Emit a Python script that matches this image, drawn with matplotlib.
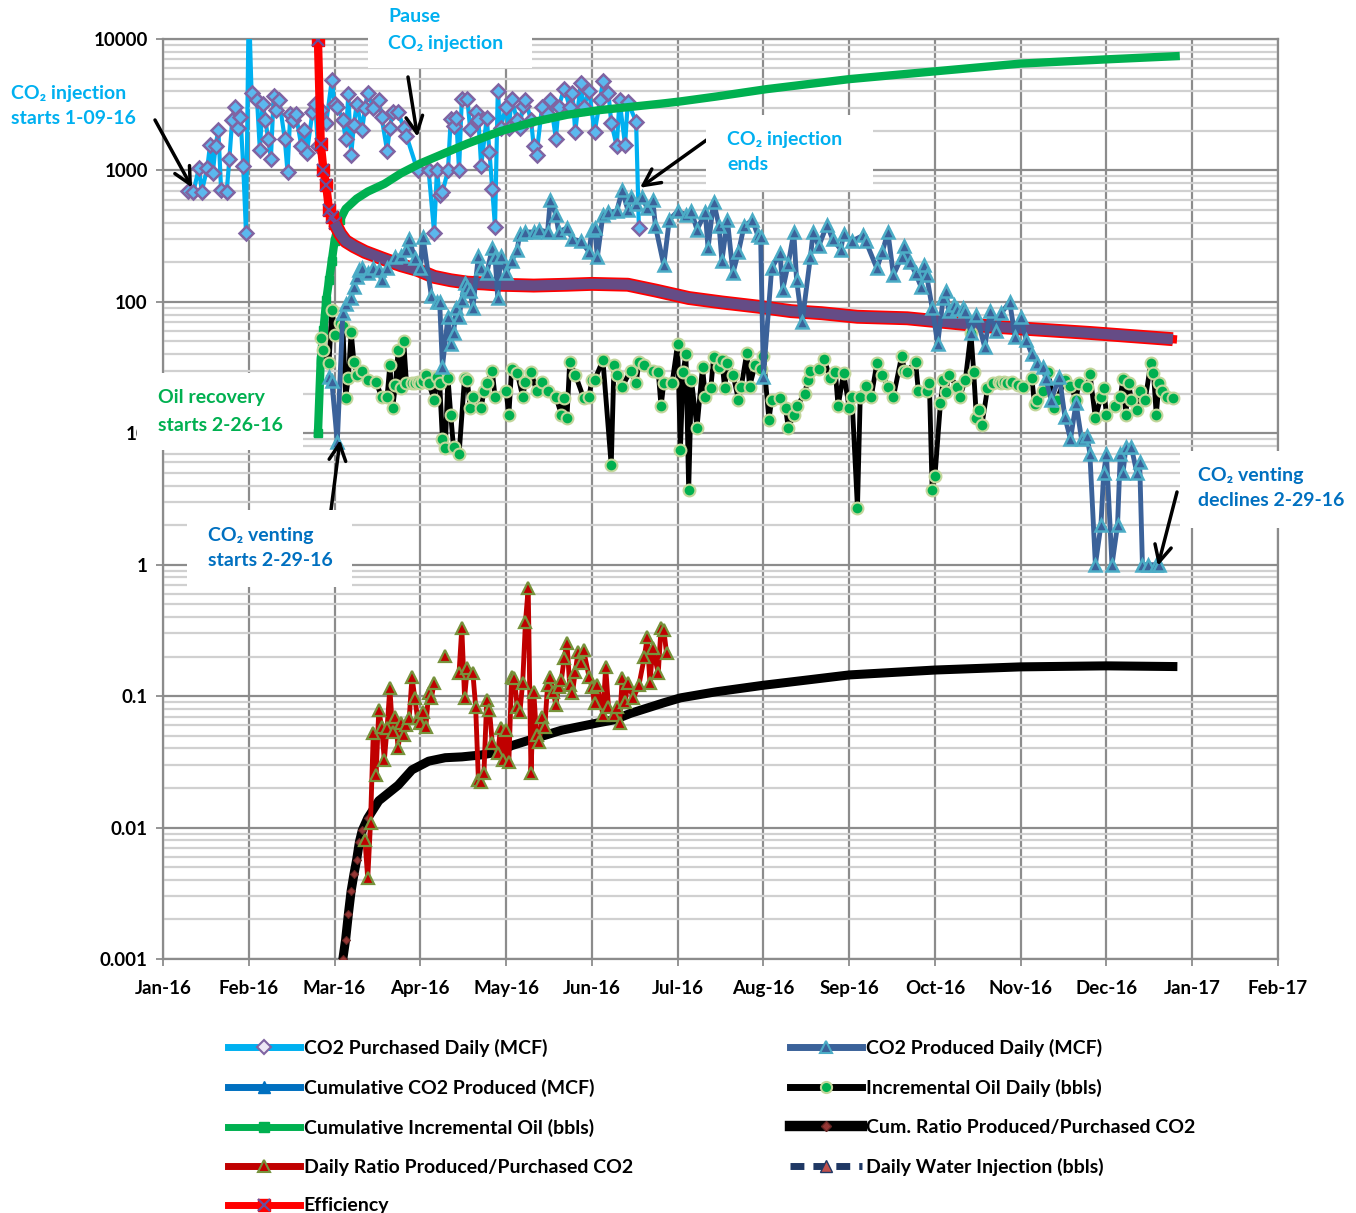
import numpy as np
import matplotlib
matplotlib.use('Agg')
import matplotlib.pyplot as plt
from matplotlib.patches import Rectangle
from matplotlib.lines import Line2D

plt.rcParams['font.family'] = ['Lato', 'DejaVu Sans']
plt.rcParams['font.weight'] = 'bold'

# x axis: days since 1 Jan 2016, ticks every 31 days
month_labels = ['Jan-16', 'Feb-16', 'Mar-16', 'Apr-16', 'May-16', 'Jun-16', 'Jul-16',
                'Aug-16', 'Sep-16', 'Oct-16', 'Nov-16', 'Dec-16', 'Jan-17', 'Feb-17']
y_labels = ['0.001', '0.01', '0.1', '1', '10', '100', '1000', '10000']

# CO2 Purchased Daily (MCF)
purch_day = [9, 11, 13, 14, 16, 17, 18, 19, 20, 21, 23, 24, 25, 26, 27, 28, 29, 30, 31, 32,
             34, 35, 36, 37, 38, 39, 40, 41, 42, 44, 45, 46, 47, 48, 50, 51, 52, 54, 55, 56,
             57, 59, 61, 62, 63, 65, 66, 67, 68, 69, 70, 72, 73, 74, 76, 78, 79, 81, 82, 83,
             85, 87, 88, 92, 96, 98, 99, 100, 101, 103, 104, 105, 106, 107, 108, 110, 111, 113, 114, 115,
             117, 118, 119, 120, 121, 122, 124, 125, 126, 128, 129, 130, 131, 133, 134, 135, 137, 139, 140, 142,
             143, 145, 147, 148, 149, 151, 152, 154, 156, 158, 159, 161, 162, 164, 165, 167, 168, 171, 172]
purch_mcf = [700, 690, 1045, 690, 1045, 1560, 950, 1530, 2040, 710, 680, 1230, 2420, 3040, 2120, 2550, 1080, 335, 20000, 3900,
             3440, 1436, 3200, 2420, 1740, 1230, 3700, 2860, 3440, 1740, 980, 2700, 2420, 2700, 1530, 2040, 1360, 2760, 3200, 1530,
             2860, 2310, 4850, 3200, 3040, 2420, 1740, 3800, 1310, 2230, 3200, 2040, 2990, 3900, 2990, 3440, 2550, 1410, 2120, 2760,
             2760, 2120, 1830, 1000, 1000, 335, 1000, 650, 680, 1000, 2470, 2160, 2500, 1000, 3520, 3520, 2080, 2760, 2420, 1080,
             2500, 1390, 720, 370, 4000, 2120, 3040, 2120, 3480, 2420, 2120, 3100, 3440, 2420, 1530, 1310, 3040, 2700, 3440, 1740,
             3040, 4200, 3040, 3900, 1960, 4650, 3040, 4000, 1960, 3440, 4780, 3900, 2310, 1530, 3440, 1560, 3310, 2350, 365]

# CO2 Produced Daily (MCF)
prod_day = [60, 61, 63, 65, 66, 68, 69, 70, 71, 72, 74, 76, 78, 79, 81, 84, 86, 88, 89, 91,
            93, 94, 97, 99, 100, 101, 103, 104, 105, 106, 107, 108, 109, 110, 111, 112, 114, 115, 117, 119,
            120, 121, 122, 124, 126, 128, 129, 131, 134, 136, 139, 140, 142, 143, 146, 148, 151, 154, 155, 156,
            157, 159, 161, 164, 166, 168, 169, 171, 173, 175, 177, 178, 181, 183, 186, 189, 191, 193, 196, 197,
            199, 201, 202, 204, 206, 208, 210, 213, 215, 216, 217, 220, 223, 224, 226, 228, 229, 231, 234, 235,
            237, 240, 242, 245, 246, 249, 253, 254, 258, 260, 262, 264, 267, 268, 270, 272, 274, 275, 276, 278,
            280, 282, 283, 284, 286, 287, 289, 290, 292, 294, 297, 299, 301, 303, 306, 308, 310, 312, 314, 316,
            318, 319, 321, 324, 326, 328, 330, 332, 334, 335, 337, 339, 340, 341, 343, 345, 346, 347, 348, 350,
            352, 353, 354, 356, 359, 360]
prod_mcf = [27, 25, 8.6, 82, 96, 107, 130, 155, 175, 180, 165, 180, 175, 146, 180, 220, 225, 250, 300, 215,
            180, 310, 110, 100, 99, 32, 77, 48, 58, 90, 77, 104, 140, 130, 120, 90, 225, 180, 165, 255,
            220, 107, 225, 165, 205, 250, 330, 340, 340, 353, 340, 600, 460, 340, 365, 300, 290, 240, 353, 365,
            220, 460, 480, 490, 710, 500, 630, 560, 630, 520, 600, 375, 190, 420, 490, 460, 490, 353, 480, 255,
            580, 375, 205, 420, 165, 240, 375, 420, 320, 310, 27, 180, 235, 124, 195, 340, 146, 70, 220, 340,
            265, 385, 300, 250, 330, 290, 320, 290, 180, 240, 340, 160, 220, 265, 200, 165, 130, 190, 160, 90,
            48, 107, 120, 85, 95, 88, 90, 85, 58, 80, 45, 85, 60, 82, 100, 54, 77, 51, 40, 34,
            32, 26.5, 18, 27, 13.2, 9, 17, 9, 9.5, 7, 1, 2, 5, 6.9, 1, 2, 6.9, 5, 7.8, 7.8,
            5, 6, 1, 1, 1, 1]

# Incremental Oil Daily (bbls)
oil_day = [57, 58, 60, 61, 62, 64, 65, 66, 67, 68, 69, 70, 72, 74, 77, 79, 81, 82, 83, 84,
           85, 86, 87, 88, 90, 91, 92, 93, 94, 95, 96, 98, 99, 100, 101, 102, 103, 104, 105, 107,
           109, 110, 111, 112, 115, 116, 117, 119, 120, 124, 125, 126, 128, 130, 131, 133, 135, 137, 139, 142,
           144, 145, 146, 147, 149, 152, 154, 155, 156, 159, 162, 163, 164, 166, 169, 171, 172, 174, 177, 179,
           180, 181, 184, 186, 187, 188, 189, 190, 191, 193, 195, 196, 198, 199, 201, 202, 203, 204, 206, 208,
           209, 211, 212, 214, 216, 217, 219, 220, 223, 225, 226, 228, 229, 232, 233, 234, 237, 239, 241, 243,
           244, 246, 248, 249, 251, 252, 254, 256, 258, 260, 262, 264, 267, 268, 269, 272, 273, 276, 277, 278,
           279, 281, 282, 283, 284, 287, 288, 290, 292, 293, 294, 295, 296, 298, 300, 302, 303, 304, 305, 307,
           309, 311, 314, 315, 316, 318, 320, 322, 323, 326, 328, 330, 331, 334, 335, 337, 339, 340, 341, 344,
           346, 347, 348, 349, 350, 352, 353, 355, 357, 358, 359, 360, 361, 363, 365]
oil_bbl = [53, 43, 34, 87, 56, 69, 66, 18.6, 26.5, 59, 35, 28, 30, 25.5, 24.5, 19, 19, 33, 15.6, 23.3,
           43, 22, 50, 24, 24, 24, 24.5, 24, 25, 28, 24, 18, 27, 24, 9, 7.7, 26.5, 13.8, 7.8, 6.9,
           26.5, 25.5, 15.6, 19, 15.6, 21, 24, 30, 19, 21, 13.8, 31, 29, 19, 24.5, 29.5, 21, 24.5, 21, 19,
           13.8, 18.6, 13, 35, 28, 18.6, 19, 25.5, 25.5, 36, 5.7, 33, 28, 22.6, 30, 24, 35, 33, 30, 29.5,
           16, 24, 24, 48, 7.5, 29.5, 40, 3.7, 25.5, 11, 32, 19, 22, 38, 32, 36, 22, 34, 28, 18,
           22.6, 41, 22.6, 33, 31, 39, 12.7, 18, 18.6, 15.6, 11, 13.8, 16, 20, 25.5, 30, 31, 37, 26.5, 29.5,
           16, 29, 15.6, 19, 2.7, 19, 23, 19, 34, 28, 22.6, 19, 39, 30, 29.5, 35, 21, 21, 24, 3.7,
           4.7, 17, 25.5, 20.6, 28, 22.6, 19, 25.5, 58, 29.5, 13, 15, 11.6, 22, 24, 24.5, 24, 24.5, 24, 24.5,
           23.5, 22.6, 26.5, 16.6, 18, 21, 29.5, 15.6, 18, 25.5, 23, 18, 24, 22.6, 28.5, 13, 19, 22, 13.8, 16,
           19, 26, 13.8, 24, 18, 15, 21, 18, 34, 29, 13.8, 24, 21, 19, 18.6]

# Cumulative Incremental Oil (bbls)
coil_day = [56, 57, 58, 59, 60, 61, 62, 63, 64, 66, 70, 74, 80, 86, 93, 110, 122, 134, 146, 158,
            170, 180, 187, 200, 218, 248, 280, 310, 341, 366]
coil_bbl = [10, 36, 61, 103, 146, 205, 290, 360, 420, 510, 610, 690, 790, 950, 1130, 1600, 1990, 2340, 2650, 2880,
            3060, 3220, 3350, 3650, 4150, 4950, 5700, 6500, 7000, 7400]

# Efficiency
eff_day = [56, 57, 58, 59, 60, 61, 62, 64, 66, 69, 73, 79, 86, 92, 98, 104, 110, 116, 122, 134,
           146, 155, 168, 178, 190, 202, 215, 227, 238, 251, 269, 299, 335, 365]
eff_val = [9800, 1600, 1000, 770, 500, 440, 400, 330, 290, 265, 240, 215, 190, 175, 155, 146, 140, 138, 135, 133,
           135, 137, 135, 122, 107, 99, 92, 85, 82, 77, 75, 65, 58, 52]

# Cum. Ratio Produced/Purchased CO2
cr_day = [64, 65, 66, 67, 68, 69, 70, 71, 72, 74, 78, 85, 90, 96, 102, 108, 115, 121, 126, 132,
          144, 157, 163, 169, 181, 187, 200, 217, 248, 279, 310, 341, 365]
cr_val = [0.0007, 0.001, 0.0014, 0.0022, 0.0033, 0.0044, 0.0057, 0.0078, 0.0095, 0.0118, 0.016, 0.021, 0.0275, 0.032, 0.034, 0.0345, 0.0357, 0.0375, 0.042, 0.046,
          0.055, 0.0625, 0.066, 0.074, 0.089, 0.097, 0.108, 0.121, 0.145, 0.158, 0.167, 0.17, 0.168]

# Daily Ratio Produced/Purchased CO2 (nan = no value)
dr_day = [73, 74, 75, 76, 77, 78, 79, 80, 81, 82, 83, 84, 85, 86, 87, 88, 89, 90, 91, 92,
          93, 94, 95, 96, 97, 98, 100, 102, 104, 107, 108, 109, 110, 112, 113, 114, 115, 116, 117, 118,
          119, 121, 122, 123, 124, 125, 126, 127, 128, 129, 130, 131, 132, 133, 134, 135, 136, 137, 138, 139,
          140, 141, 142, 143, 144, 145, 146, 147, 148, 149, 150, 151, 152, 154, 155, 156, 157, 159, 160, 161,
          163, 164, 165, 166, 167, 168, 170, 172, 174, 175, 176, 177, 179, 180, 181, 182]
dr_val = [0.008, 0.0041, 0.0109, 0.052, 0.025, 0.0785, 0.0585, 0.0327, 0.0575, 0.115, 0.053, 0.069, 0.040, 0.063, 0.0505, 0.060, 0.068, 0.140, 0.097, 0.068,
          0.062, 0.076, 0.0585, 0.106, 0.097, 0.126, np.nan, 0.202, np.nan, 0.150, 0.33, 0.097, 0.164, 0.150, 0.083, 0.023, 0.0222, 0.026, 0.094, 0.0785,
          0.044, 0.037, 0.0575, 0.0327, 0.055, 0.0315, 0.140, 0.138, 0.083, 0.076, 0.126, 0.365, 0.66, 0.026, 0.108, 0.0505, 0.045, 0.069, 0.0585, 0.121,
          0.140, 0.108, 0.086, 0.118, 0.133, 0.195, 0.254, 0.121, 0.106, 0.153, 0.215, 0.179, 0.224, 0.140, 0.118, 0.089, 0.121, 0.072, 0.167, 0.083,
          0.072, 0.083, 0.062, 0.138, 0.090, 0.126, 0.097, 0.121, 0.199, 0.28, 0.126, 0.232, 0.150, 0.33, 0.32, 0.212]

W, H = 1356, 1213
fig = plt.figure(figsize=(W / 100, H / 100), dpi=100)
ax = fig.add_axes([163 / W, 1 - 959 / H, 1115 / W, 920 / H])
ax.set_yscale('log')
ax.set_xlim(0, 31 * 13)
ax.set_ylim(0.001, 10000)

# grid
ax.set_xticks([31 * i for i in range(len(month_labels))])
ax.set_xticklabels(month_labels)
ax.set_yticks([10.0 ** p for p in range(-3, 5)])
ax.set_yticklabels(y_labels)
ax.grid(True, which='major', color='#8c8c8c', lw=1.6)
ax.grid(True, which='minor', axis='y', color='#d0d0d0', lw=1.6)
ax.tick_params(axis='both', which='major', labelsize=13.5, length=5, width=1.3, color='#8c8c8c')
ax.tick_params(axis='x', pad=10)
ax.tick_params(axis='y', pad=6)
ax.tick_params(axis='y', which='minor', length=0)
for lab in ax.get_xticklabels() + ax.get_yticklabels():
    lab.set_fontweight('bold')
for s in ax.spines.values():
    s.set_color('#8c8c8c')
    s.set_linewidth(1.6)
ax.set_axisbelow(True)

ax.plot(purch_day, purch_mcf, color='#00B0F0', lw=3, marker='D', ms=7,
        mfc='#5BB8EE', mec='#8064A2', mew=1.8, zorder=3)
ax.plot(coil_day, coil_bbl, color='#00B050', lw=6, marker='s', ms=6,
        markevery=slice(0, 9), mfc='#00B050', mec='#00B050', zorder=4)
ax.plot(eff_day, eff_val, color='#FF0000', lw=6, marker='s', ms=8,
        markevery=slice(0, 7), mfc='#FF0000', mec='#FF0000', zorder=5)
ax.plot(eff_day, eff_val, ls='none', marker='x', ms=8, mew=1.6, color='#6B4E9A',
        markevery=slice(0, 7), zorder=5.1)
ax.plot(eff_day[6:], eff_val[6:], color='#FF0000', lw=10, solid_capstyle='butt', zorder=5.2)
ax.plot(eff_day[6:], eff_val[6:], color='#654C86', lw=7.5, solid_capstyle='butt', zorder=5.3)
ax.plot(oil_day, oil_bbl, color='black', lw=3.5, marker='o', ms=8.5,
        mfc='#00B050', mec='#C3D69B', mew=1.5, zorder=6)
ax.plot(prod_day, prod_mcf, color='#3B629A', lw=3.5, marker='^', ms=8.5,
        mfc='#3B629A', mec='#4BACC6', mew=1.8, zorder=7)
ax.plot(cr_day, cr_val, color='black', lw=6.5, marker='D', ms=4.5,
        markevery=slice(0, 10), mfc='#953735', mec='#632523', mew=0.8, zorder=8)
ax.plot(dr_day, dr_val, color='#C00000', lw=3.5, marker='^', ms=8.5,
        mfc='#C00000', mec='#77933C', mew=1.6, zorder=9)

# legend (proxy entries with the thick legend strokes)
def key(**kw):
    return Line2D([], [], lw=5, **kw)

handles = [
    key(color='#00B0F0', marker='D', ms=7, mfc='#EDE8F5', mec='#8064A2', mew=1.5),
    key(color='#0070C0', marker='^', ms=9, mfc='#0070C0', mec='#0070C0'),
    key(color='#00B050', marker='s', ms=7, mfc='#00B050', mec='#00B050'),
    key(color='#C00000', marker='^', ms=9, mfc='#C00000', mec='#77933C', mew=1.5),
    (key(color='#FF0000', marker='s', ms=9, mfc='#FF0000', mec='#FF0000'),
     Line2D([], [], ls='none', marker='x', ms=8, mew=1.6, color='#6B4E9A')),
    key(color='#3B629A', marker='^', ms=9, mfc='#3B629A', mec='#4BACC6', mew=1.5),
    key(color='black', marker='o', ms=8, mfc='#00B050', mec='#C3D69B', mew=1.5),
    Line2D([], [], lw=7.5, color='black', marker='D', ms=5, mfc='#953735', mec='#632523'),
    key(color='#1F3864', ls=(0, (2, 1.3)), marker='^', ms=9, mfc='#C0504D', mec='#1F3864'),
]
labels = ['CO2 Purchased Daily (MCF)', 'Cumulative CO2 Produced (MCF)',
          'Cumulative Incremental Oil (bbls)', 'Daily Ratio Produced/Purchased CO2',
          'Efficiency', 'CO2 Produced Daily (MCF)', 'Incremental Oil Daily (bbls)',
          'Cum. Ratio Produced/Purchased CO2', 'Daily Water Injection (bbls)']
fig.legend(handles, labels, loc='upper left', bbox_to_anchor=(228 / W, 1 - 1039 / H),
           ncol=2, frameon=False, handlelength=3.7, handletextpad=0.2,
           columnspacing=8.1, labelspacing=1.12, borderpad=0, borderaxespad=0,
           prop=dict(weight='bold', size=14))

# annotation boxes and texts (figure pixel layout)
def fx(x):
    return x / W

def fy(y):
    return 1 - y / H

for x0, y0, x1, y1 in [(368, 0, 532, 68), (706, 115, 873, 190), (137, 373, 303, 450),
                       (187, 510, 352, 587), (1180, 451, 1356, 528)]:
    fig.patches.append(Rectangle((fx(x0), fy(y1)), (x1 - x0) / W, (y1 - y0) / H,
                                 transform=fig.transFigure, facecolor='white',
                                 edgecolor='none', zorder=20))

notes = [
    (11, 93, 'CO\u2082 injection', '#00B0F0'), (11, 119, 'starts 1-09-16', '#00B0F0'),
    (388, 17, 'Pause', '#00B0F0'), (388, 44, 'CO\u2082 injection', '#00B0F0'),
    (727, 139, 'CO\u2082 injection', '#00B0F0'), (727, 165, 'ends', '#00B0F0'),
    (158, 398, 'Oil recovery', '#00B050'), (158, 425, 'starts 2-26-16', '#00B050'),
    (208, 535, 'CO\u2082 venting', '#0070C0'), (208, 561, 'starts 2-29-16', '#0070C0'),
    (1198, 476, 'CO\u2082 venting', '#0070C0'), (1198, 501, 'declines 2-29-16', '#0070C0'),
]
for x, y, t, c in notes:
    fig.text(fx(x), fy(y), t, color=c, fontsize=14, fontweight='bold',
             ha='left', va='center', zorder=21)

arrows = [((10.5, 740), (155, 120)), ((92, 1800), (408, 77)), ((172.4, 738), (708, 139)),
          ((64, 8.9), (331, 510)), ((359.6, 0.98), (1177, 492))]
for xy, txt in arrows:
    ax.annotate('', xy=xy, xycoords='data', xytext=(fx(txt[0]), fy(txt[1])),
                textcoords='figure fraction', zorder=22,
                arrowprops=dict(arrowstyle='->', color='black', lw=2.5, mutation_scale=30,
                                shrinkA=0, shrinkB=0), annotation_clip=False)

fig.savefig('out.png', dpi=100)
